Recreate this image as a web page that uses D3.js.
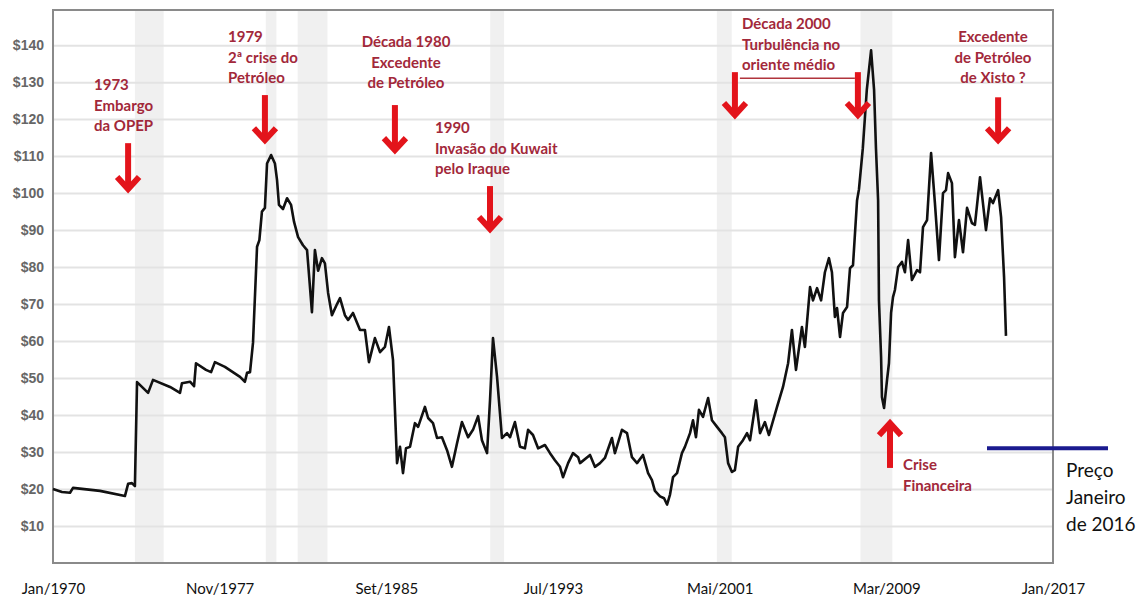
<!DOCTYPE html>
<html>
<head>
<meta charset="utf-8">
<script src="https://cdn.jsdelivr.net/npm/d3@7"></script>
<style>
  body { margin: 0; background: #fff; }
  svg { display: block; }
</style>
</head>
<body>
<svg id="chart" width="1148" height="601"></svg>
<script>
// oil price (inflation adjusted, US$/barrel)
const years = [
  1970.00, 1970.42, 1970.80, 1970.94, 1972.21, 1973.38, 1973.53, 1973.71, 1973.85, 1973.95,
  1974.47, 1974.70, 1975.50, 1975.97, 1976.06, 1976.44, 1976.63, 1976.72, 1977.19, 1977.43,
  1977.61, 1978.08, 1978.79, 1979.02, 1979.12, 1979.26, 1979.40, 1979.59, 1979.70, 1979.82,
  1979.96, 1980.06, 1980.25, 1980.43, 1980.53, 1980.62, 1980.81, 1981.00, 1981.19, 1981.33,
  1981.52, 1981.75, 1981.94, 1981.99, 1982.17, 1982.31, 1982.46, 1982.64, 1982.78, 1982.93,
  1983.11, 1983.35, 1983.49, 1983.72, 1983.87, 1984.10, 1984.43, 1984.66, 1984.85, 1985.13,
  1985.37, 1985.60, 1985.79, 1985.98, 1986.17, 1986.31, 1986.45, 1986.59, 1986.78, 1987.01,
  1987.16, 1987.48, 1987.63, 1987.86, 1988.05, 1988.28, 1988.52, 1988.75, 1988.99, 1989.22,
  1989.51, 1989.74, 1989.98, 1990.16, 1990.40, 1990.54, 1990.68, 1990.87, 1991.10, 1991.34,
  1991.48, 1991.71, 1991.95, 1992.18, 1992.33, 1992.56, 1992.80, 1993.12, 1993.36, 1993.59,
  1993.83, 1993.97, 1994.21, 1994.44, 1994.68, 1994.77, 1995.24, 1995.47, 1995.71, 1995.94,
  1996.27, 1996.41, 1996.74, 1996.98, 1997.21, 1997.45, 1997.73, 1997.97, 1998.15, 1998.29,
  1998.53, 1998.72, 1998.86, 1999.00, 1999.14, 1999.33, 1999.56, 1999.70, 1999.94, 2000.08,
  2000.22, 2000.36, 2000.55, 2000.79, 2000.97, 2001.21, 2001.44, 2001.58, 2001.73, 2001.91,
  2002.05, 2002.20, 2002.43, 2002.62, 2002.76, 2003.04, 2003.23, 2003.46, 2003.65, 2004.03,
  2004.31, 2004.55, 2004.73, 2004.92, 2005.20, 2005.34, 2005.58, 2005.72, 2005.91, 2006.10,
  2006.28, 2006.47, 2006.61, 2006.75, 2006.85, 2006.99, 2007.13, 2007.32, 2007.46, 2007.60,
  2007.79, 2007.88, 2008.06, 2008.25, 2008.45, 2008.59, 2008.68, 2008.78, 2008.82, 2008.92,
  2008.96, 2009.06, 2009.20, 2009.29, 2009.39, 2009.48, 2009.57, 2009.72, 2009.90, 2010.04,
  2010.19, 2010.37, 2010.61, 2010.75, 2010.89, 2011.08, 2011.27, 2011.45, 2011.64, 2011.83,
  2011.97, 2012.07, 2012.25, 2012.39, 2012.58, 2012.77, 2012.96, 2013.19, 2013.33, 2013.57,
  2013.85, 2014.04, 2014.18, 2014.42, 2014.56, 2014.70, 2014.79
];
const prices = [
  20.0, 19.2, 19.0, 20.3, 19.5, 18.1, 21.4, 21.6, 20.8, 48.9,
  46.0, 49.5, 47.6, 46.0, 48.6, 49.0, 47.8, 54.0, 52.2, 51.6,
  54.3, 53.0, 50.3, 49.0, 51.4, 51.6, 59.5, 85.5, 87.3, 95.0,
  96.0, 108.0, 110.3, 108.0, 103.5, 96.8, 95.7, 98.6, 96.8, 92.2,
  88.1, 85.9, 84.6, 81.0, 67.8, 84.6, 79.0, 82.4, 81.0, 73.0,
  67.0, 70.0, 71.6, 67.0, 65.7, 67.6, 63.0, 63.0, 54.3, 60.8,
  57.0, 58.4, 63.8, 54.9, 27.0, 31.4, 24.3, 31.0, 31.4, 37.8,
  36.8, 42.2, 39.2, 37.8, 33.8, 34.0, 30.5, 26.0, 32.4, 38.1,
  34.0, 36.0, 39.7, 33.2, 29.7, 44.0, 60.8, 50.3, 33.8, 35.1,
  34.0, 38.1, 31.4, 31.0, 36.0, 34.6, 31.0, 31.9, 29.7, 27.8,
  26.0, 23.2, 27.0, 29.7, 28.6, 27.0, 29.2, 26.0, 27.0, 28.4,
  33.8, 29.7, 36.0, 35.1, 28.6, 27.0, 29.2, 24.3, 22.4, 19.5,
  18.0, 17.5, 15.8, 18.5, 23.2, 24.3, 29.7, 31.4, 35.1, 38.6,
  34.0, 41.4, 39.5, 44.6, 38.6, 36.8, 35.1, 34.0, 27.0, 24.6,
  25.1, 31.4, 33.2, 35.1, 33.2, 44.0, 35.1, 38.1, 34.6, 42.2,
  47.6, 54.0, 63.0, 52.2, 63.8, 58.4, 74.6, 71.0, 74.3, 71.0,
  78.6, 82.4, 78.6, 66.5, 68.9, 61.1, 67.6, 69.2, 79.7, 80.5,
  98.0, 101.0, 112.0, 128.0, 138.6, 128.0, 112.0, 98.0, 71.0, 55.7,
  44.9, 41.9, 49.5, 54.0, 67.6, 71.9, 73.8, 80.0, 81.4, 78.6,
  87.3, 76.5, 79.2, 78.6, 90.8, 92.7, 110.8, 97.3, 81.9, 100.0,
  100.8, 105.4, 102.7, 82.7, 92.7, 84.0, 96.0, 91.9, 91.4, 104.3,
  90.0, 98.6, 97.3, 100.8, 93.5, 77.3, 61.4
];

const yTicks = [10, 20, 30, 40, 50, 60, 70, 80, 90, 100, 110, 120, 130, 140];
const xTickYears = [1970, 1977 + 10 / 12, 1985 + 8 / 12, 1993.5, 2001 + 4 / 12, 2009 + 2 / 12, 2017];
const xTickLabels = ["Jan/1970", "Nov/1977", "Set/1985", "Jul/1993", "Mai/2001", "Mar/2009", "Jan/2017"];

// recession bands [start, end]
const recessions = [
  [1973.85, 1975.2], [1980.0, 1980.5], [1981.5, 1982.9],
  [1990.55, 1991.2], [2001.2, 2001.9], [2007.95, 2009.45]
];

// price in January 2016
const janPrice = 31;

// annotation arrows: year, from value, to value
const arrows = [
  { year: 1973.53, from: 113.5, to: 100.3 },
  { year: 1979.96, from: 126.5, to: 113.5 },
  { year: 1986.07, from: 123.8, to: 110.8 },
  { year: 1990.54, from: 101.9, to: 89.5 },
  { year: 2002.05, from: 132.7, to: 120.3 },
  { year: 2007.83, from: 132.7, to: 120.3 },
  { year: 2014.42, from: 125.9, to: 113.5 },
  { year: 2009.34, from: 25.7, to: 38.6 }
];

const notes = [
  { lines: ["1973", "Embargo", "da OPEP"], x: 94, y: 90, anchor: "start" },
  { lines: ["1979", "2ª crise do", "Petróleo"], x: 228, y: 42, anchor: "start" },
  { lines: ["Década 1980", "Excedente", "de Petróleo"], x: 406, y: 47, anchor: "middle" },
  { lines: ["1990", "Invasão do Kuwait", "pelo Iraque"], x: 435, y: 133, anchor: "start" },
  { lines: ["Década 2000", "Turbulência no", "oriente médio"], x: 742, y: 29, anchor: "start" },
  { lines: ["Excedente", "de Petróleo", "de Xisto ?"], x: 993, y: 42, anchor: "middle" },
  { lines: ["Crise", "Financeira"], x: 903, y: 470, anchor: "start" }
];

const svg = d3.select("#chart");
const margin = { top: 10, right: 95, bottom: 38, left: 53 };
const width = 1148, height = 601;

const x = d3.scaleLinear().domain([1970, 2017]).range([margin.left, width - margin.right]);
const y = d3.scaleLinear().domain([0, 149.5]).range([height - margin.bottom, margin.top]);

// recession bands
svg.append("g")
  .selectAll("rect")
  .data(recessions)
  .enter()
  .append("rect")
  .attr("x", (d) => x(d[0]))
  .attr("y", margin.top)
  .attr("width", (d) => x(d[1]) - x(d[0]))
  .attr("height", y(0) - margin.top)
  .attr("fill", "#f0f0f0");

// grid + y labels
const yAxis = d3.axisLeft(y)
  .tickValues(yTicks)
  .tickSize(-(x.range()[1] - x.range()[0]))
  .tickPadding(9)
  .tickFormat((d) => "$" + d);

svg.append("g")
  .attr("transform", `translate(${margin.left},0)`)
  .call(yAxis)
  .call((g) => g.select(".domain").remove())
  .call((g) => g.selectAll("line").attr("stroke", "#e3e3e3").attr("stroke-width", 2))
  .call((g) => g.selectAll("text")
    .attr("fill", "#666")
    .attr("font-family", "Liberation Sans, Arial, sans-serif")
    .attr("font-weight", "bold")
    .attr("font-size", 14));

// x labels
const xAxis = d3.axisBottom(x)
  .tickValues(xTickYears)
  .tickSize(0)
  .tickPadding(20)
  .tickFormat((d, i) => xTickLabels[i]);

svg.append("g")
  .attr("transform", `translate(0,${y(0)})`)
  .call(xAxis)
  .call((g) => g.select(".domain").remove())
  .call((g) => g.selectAll("text")
    .attr("fill", "#111")
    .attr("font-family", "Lato, sans-serif")
    .attr("font-size", 15));

// frame
svg.append("rect")
  .attr("x", margin.left)
  .attr("y", margin.top)
  .attr("width", x.range()[1] - x.range()[0])
  .attr("height", y(0) - margin.top)
  .attr("fill", "none")
  .attr("stroke", "#8a8a8a")
  .attr("stroke-width", 2);

// price line
const line = d3.line()
  .x((d, i) => x(years[i]))
  .y((d) => y(d));

svg.append("path")
  .datum(prices)
  .attr("d", line)
  .attr("fill", "none")
  .attr("stroke", "#111")
  .attr("stroke-width", 2.6)
  .attr("stroke-linejoin", "round");

// connector between the two 2000s arrows
svg.append("line")
  .attr("x1", x(arrows[4].year) + 5)
  .attr("x2", x(arrows[5].year) - 3)
  .attr("y1", y(arrows[4].from) + 6)
  .attr("y2", y(arrows[4].from) + 6)
  .attr("stroke", "#b0343c")
  .attr("stroke-width", 1.5);

// red arrows
const arrowG = svg.append("g")
  .attr("stroke", "#e3141b")
  .attr("fill", "none")
  .attr("stroke-width", 6);

arrows.forEach((a) => {
  const ax = x(a.year), y1 = y(a.from), y2 = y(a.to);
  const dir = y2 > y1 ? 1 : -1;
  arrowG.append("line")
    .attr("x1", ax).attr("x2", ax)
    .attr("y1", y1).attr("y2", y2 - dir * 4);
  arrowG.append("path")
    .attr("d", `M${ax - 11},${y2 - dir * 15} L${ax},${y2 - dir * 3} L${ax + 11},${y2 - dir * 15}`)
    .attr("stroke-linejoin", "miter");
});

// annotation text
notes.forEach((n) => {
  const t = svg.append("text")
    .attr("x", n.x)
    .attr("y", n.y)
    .attr("text-anchor", n.anchor)
    .attr("fill", "#a2283a")
    .attr("font-family", "Lato, sans-serif")
    .attr("font-weight", "bold")
    .attr("font-size", 15);
  n.lines.forEach((l, i) => {
    t.append("tspan").attr("x", n.x).attr("dy", i === 0 ? 0 : 20.5).text(l);
  });
});

// January 2016 price marker
svg.append("line")
  .attr("x1", 987)
  .attr("x2", 1108)
  .attr("y1", y(janPrice))
  .attr("y2", y(janPrice))
  .attr("stroke", "#1b1b8f")
  .attr("stroke-width", 4);

const pt = svg.append("text")
  .attr("x", 1066)
  .attr("y", 477)
  .attr("fill", "#111")
  .attr("font-family", "Lato, sans-serif")
  .attr("font-size", 19);
["Preço", "Janeiro", "de 2016"].forEach((l, i) => {
  pt.append("tspan").attr("x", 1066).attr("dy", i === 0 ? 0 : 27).text(l);
});
</script>
</body>
</html>
